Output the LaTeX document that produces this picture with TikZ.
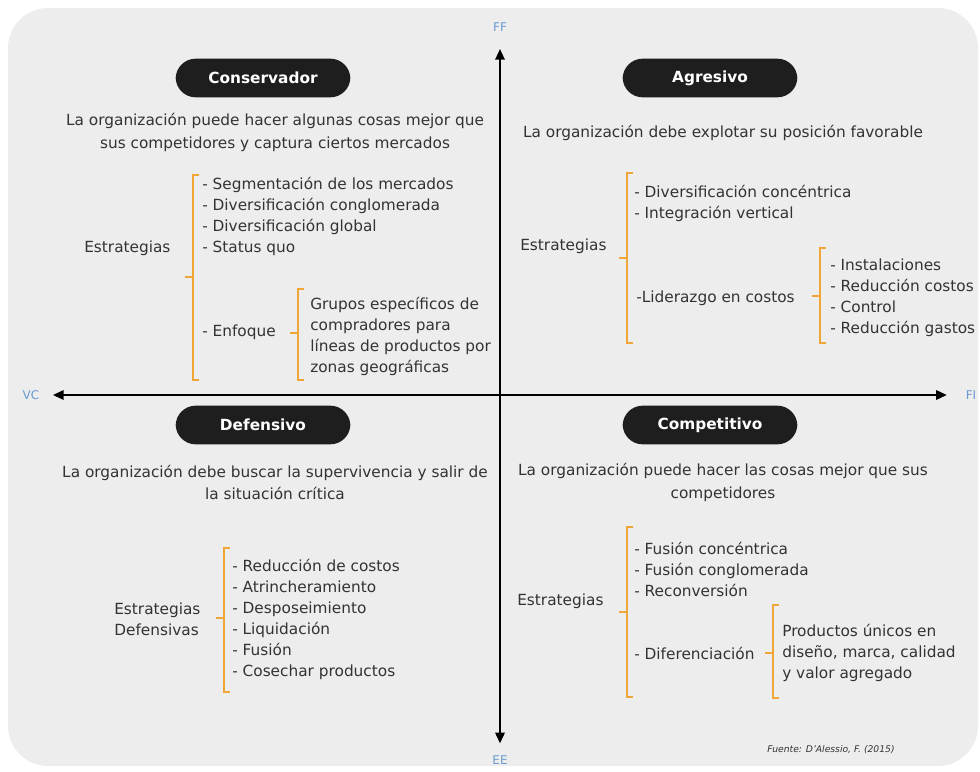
\documentclass[tikz,border=0pt]{standalone}
\usepackage{fontspec}
\setmainfont{DejaVu Sans}
\usetikzlibrary{arrows.meta}
\definecolor{bg}{HTML}{EDEDED}
\definecolor{brk}{HTML}{F0A537}
\definecolor{axl}{HTML}{6A9BD0}
\definecolor{txt}{HTML}{333333}
\definecolor{pillc}{HTML}{1E1E1E}
\begin{document}
\begin{tikzpicture}[x=0.75pt,y=-0.75pt,
  pill/.style={fill=pillc, text=white, rounded corners=15pt, minimum width=131pt, minimum height=29pt, font=\bfseries\fontsize{11.5}{13}\selectfont},
  desc/.style={align=center, text=txt, inner sep=0pt, font=\fontsize{11.5}{17}\selectfont},
  lst/.style={align=left, anchor=west, text=txt, inner sep=0pt, font=\fontsize{11.5}{15.75}\selectfont},
  brkline/.style={draw=brk, line width=1.6pt},
  axlab/.style={text=axl, inner sep=0pt, font=\fontsize{9}{10}\selectfont},
  axis/.style={line width=1.5pt, {Triangle[length=8pt,width=7pt]}-{Triangle[length=8pt,width=7pt]}}
]
\useasboundingbox (0,0) rectangle (980,771);
\fill[bg, rounded corners=30pt] (8,8) rectangle (978,766);

% axes
\node[axlab] (ff) at (500,27) {FF};
\node[axlab] (ee) at (500,760) {EE};
\node[axlab] (vc) at (31,395) {VC};
\node[axlab] (fi) at (971,395) {FI};
\draw[axis, shorten <=9pt, shorten >=13pt] (ee.north) -- (ff.south);
\draw[axis, shorten <=10pt, shorten >=14pt] (vc.east) -- (fi.west);

% titles
\node[pill] (t1) at (263,78) {Conservador};
\node[pill] (t2) at (710,78) {Agresivo};
\node[pill] (t3) at (263,425) {Defensivo};
\node[pill] (t4) at (710,425) {Competitivo};

% descriptions
\node[desc] (d1) at (275,132.5) {La organización puede hacer algunas cosas mejor que\\sus competidores y captura ciertos mercados};
\node[desc] (d2) at (723,133) {La organización debe explotar su posición favorable};
\node[desc] (d3) at (275,482.5) {La organización debe buscar la supervivencia y salir de\\la situación crítica};
\node[desc] (d4) at (723,482.5) {La organización puede hacer las cosas mejor que sus\\competidores};

% Conservador
\node[lst] (e1) at (84,248) {Estrategias};
\node[lst] (l1) at (202,216.5) {- Segmentación de los mercados\\- Diversificación conglomerada\\- Diversificación global\\- Status quo};
\node[lst] (f1) at (202,332) {- Enfoque};
\node[lst] (g1) at (310,336.5) {Grupos específicos de\\compradores para\\líneas de productos por\\zonas geográficas};
\draw[brkline] (199,175) -- (193,175) -- (193,380) -- (199,380) (185,277) -- (193,277);
\draw[brkline] (304,289) -- (298,289) -- (298,380) -- (304,380) (290,333) -- (298,333);

% Agresivo
\node[lst] (e2) at (520,246) {Estrategias};
\node[lst] (l2) at (634,203) {- Diversificación concéntrica\\- Integración vertical};
\node[lst] (f2) at (636,298) {-Liderazgo en costos};
\node[lst] (g2) at (830,297.5) {- Instalaciones\\- Reducción costos\\- Control\\- Reducción gastos};
\draw[brkline] (633,173) -- (627,173) -- (627,343) -- (633,343) (619,258) -- (627,258);
\draw[brkline] (826,248) -- (820,248) -- (820,343) -- (826,343) (812,296) -- (820,296);

% Defensivo
\node[lst] (e3) at (114,619) {Estrategias\\Defensivas};
\node[lst] (l3) at (232,619) {- Reducción de costos\\- Atrincheramiento\\- Desposeimiento\\- Liquidación\\- Fusión\\- Cosechar productos};
\draw[brkline] (230,548) -- (224,548) -- (224,692) -- (230,692) (216,618) -- (224,618);

% Competitivo
\node[lst] (e4) at (517,601) {Estrategias};
\node[lst] (l4) at (634,569) {- Fusión concéntrica\\- Fusión conglomerada\\- Reconversión};
\node[lst] (f4) at (634,653) {- Diferenciación};
\node[lst] (g4) at (782,652.5) {Productos únicos en\\diseño, marca, calidad\\y valor agregado};
\draw[brkline] (633,527) -- (627,527) -- (627,697) -- (633,697) (619,612) -- (627,612);
\draw[brkline] (779,605) -- (773,605) -- (773,698) -- (779,698) (765,653) -- (773,653);

% source
\node[inner sep=0pt, text=txt, font=\itshape\fontsize{6.9}{8}\selectfont] (src) at (831,750) {Fuente: D'Alessio, F. (2015)};
\end{tikzpicture}
\end{document}
